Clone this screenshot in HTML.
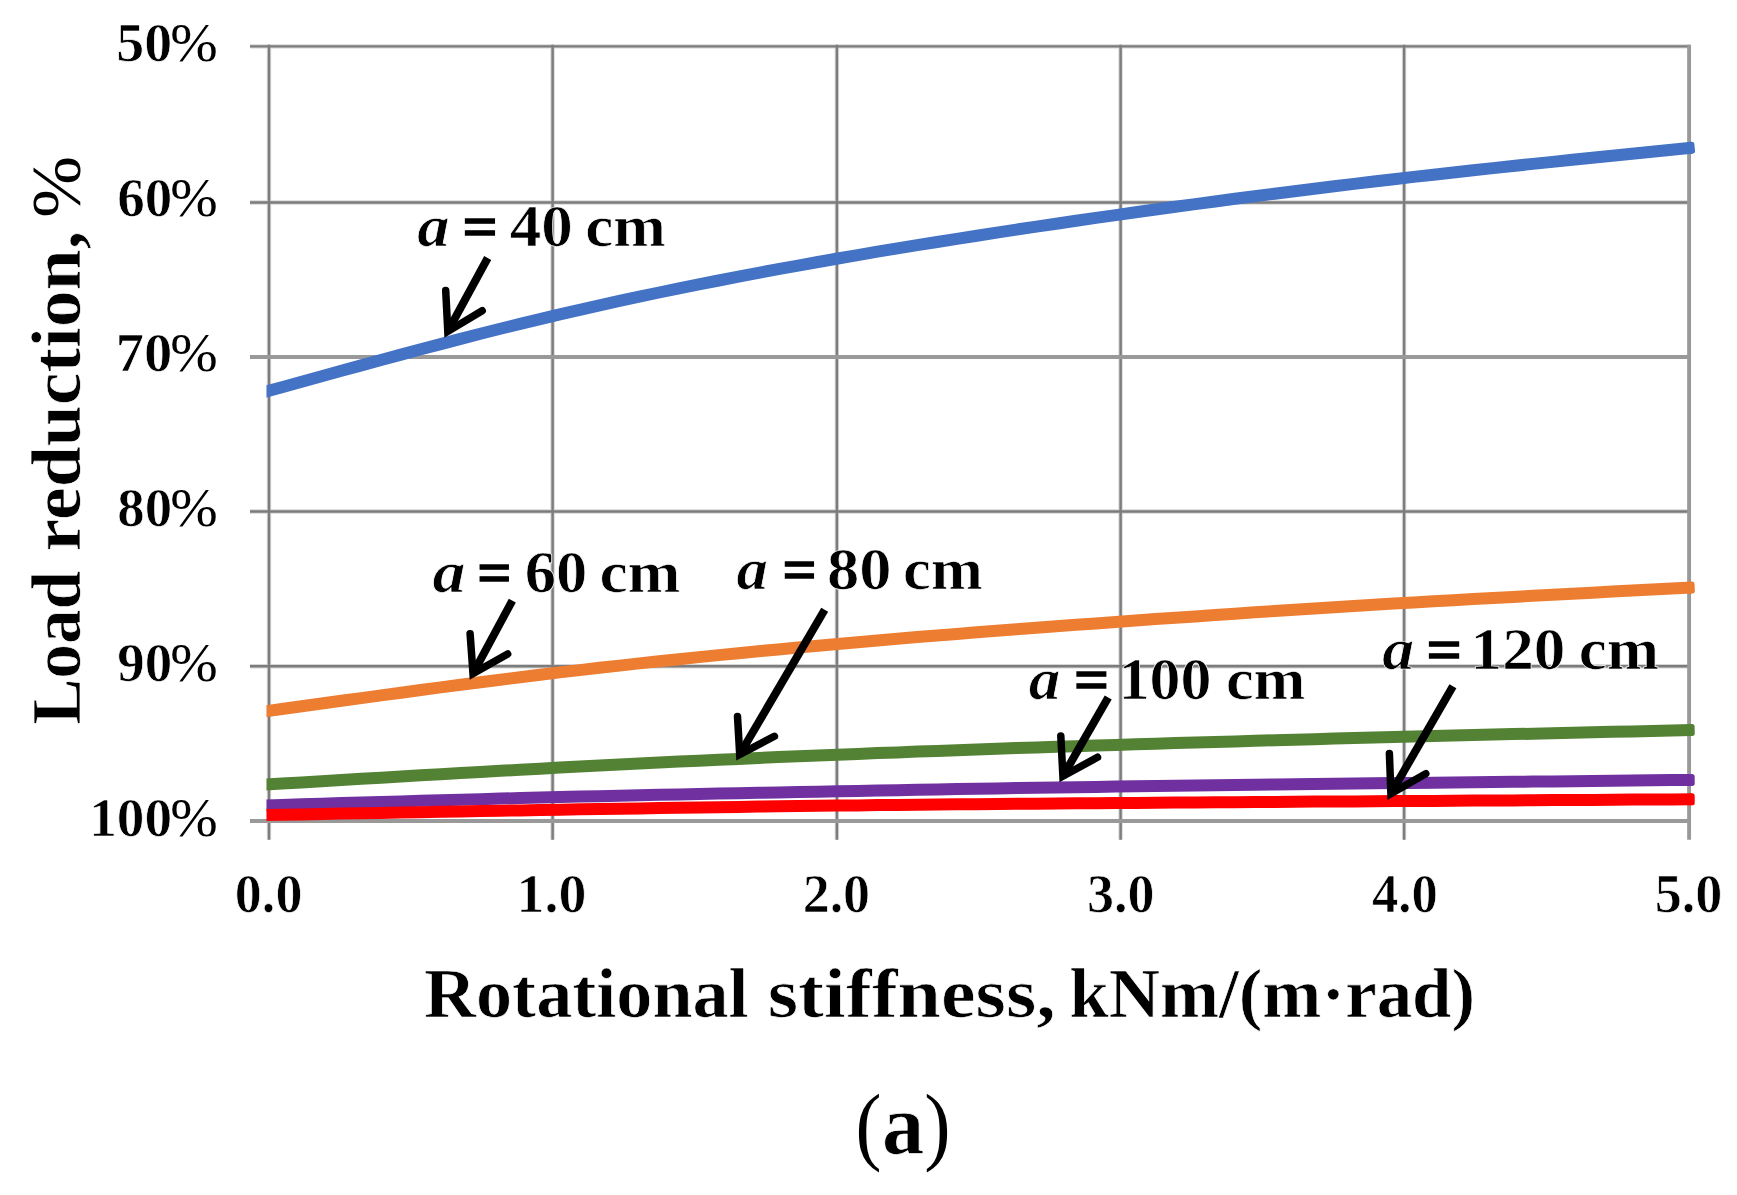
<!DOCTYPE html>
<html lang="en"><head><meta charset="utf-8"><title>Load reduction vs rotational stiffness (a)</title>
<style>
html,body{margin:0;padding:0;background:#fff;}
body{width:1737px;height:1195px;overflow:hidden;}
svg{display:block;}
text{font-family:"Liberation Serif","DejaVu Serif",serif;font-weight:bold;fill:#000;stroke:#fff;stroke-width:0.7px;}
.i{font-style:italic;}
.r{font-weight:normal;stroke:none;}
.eq{stroke:#000;stroke-width:1.4px;}
</style></head><body>
<svg width="1737" height="1195" viewBox="0 0 1737 1195">
<rect width="1737" height="1195" fill="#fff"/>
<g stroke="#d6d6d6" stroke-width="4.4" fill="none"><line x1="250" y1="46.35" x2="1690.6" y2="46.35"/><line x1="250" y1="202.45" x2="1690.6" y2="202.45"/><line x1="250" y1="511.5" x2="1690.6" y2="511.5"/><line x1="250" y1="666.2" x2="1690.6" y2="666.2"/><line x1="269.0" y1="44.85" x2="269.0" y2="839.8"/><line x1="552.6" y1="44.85" x2="552.6" y2="839.8"/><line x1="836.9" y1="44.85" x2="836.9" y2="839.8"/><line x1="1120.6" y1="44.85" x2="1120.6" y2="839.8"/><line x1="1404.1" y1="44.85" x2="1404.1" y2="839.8"/></g><g stroke="#7c7c7c" stroke-width="2.4" fill="none"><line x1="250" y1="46.35" x2="1690.6" y2="46.35"/><line x1="250" y1="202.45" x2="1690.6" y2="202.45"/><line x1="250" y1="511.5" x2="1690.6" y2="511.5"/><line x1="250" y1="666.2" x2="1690.6" y2="666.2"/><line x1="269.0" y1="44.85" x2="269.0" y2="839.8"/><line x1="552.6" y1="44.85" x2="552.6" y2="839.8"/><line x1="836.9" y1="44.85" x2="836.9" y2="839.8"/><line x1="1120.6" y1="44.85" x2="1120.6" y2="839.8"/><line x1="1404.1" y1="44.85" x2="1404.1" y2="839.8"/></g><g stroke="#999999" stroke-width="3.9" fill="none"><line x1="250" y1="357.0" x2="1690.6" y2="357.0"/><line x1="250" y1="821.0" x2="1690.6" y2="821.0"/><line x1="1689.1" y1="44.85" x2="1689.1" y2="839.8"/></g>
<g id="labels">
<text id="lab40" y="246.2" font-size="60" xml:space="preserve"><tspan id="lab40_0" class="i" x="417.39" textLength="32.29" lengthAdjust="spacingAndGlyphs">a</tspan><tspan id="lab40_1" class="eq" x="447.02" textLength="50.74" lengthAdjust="spacingAndGlyphs"> =</tspan><tspan id="lab40_2" x="493.93" textLength="78.78" lengthAdjust="spacingAndGlyphs"> 40</tspan><tspan id="lab40_3" x="569.42" textLength="96.44" lengthAdjust="spacingAndGlyphs"> cm</tspan></text>
<text id="lab60" y="591.8000000000001" font-size="60" xml:space="preserve"><tspan id="lab60_0" class="i" x="432.55" textLength="32.94" lengthAdjust="spacingAndGlyphs">a</tspan><tspan id="lab60_1" class="eq" x="462.26" textLength="49.38" lengthAdjust="spacingAndGlyphs"> =</tspan><tspan id="lab60_2" x="509.21" textLength="78.17" lengthAdjust="spacingAndGlyphs"> 60</tspan><tspan id="lab60_3" x="583.58" textLength="96.91" lengthAdjust="spacingAndGlyphs"> cm</tspan></text>
<text id="lab80" y="589.1" font-size="60" xml:space="preserve"><tspan id="lab80_0" class="i" x="736.40" textLength="31.39" lengthAdjust="spacingAndGlyphs">a</tspan><tspan id="lab80_1" class="eq" x="767.58" textLength="49.20" lengthAdjust="spacingAndGlyphs"> =</tspan><tspan id="lab80_2" x="810.91" textLength="80.56" lengthAdjust="spacingAndGlyphs"> 80</tspan><tspan id="lab80_3" x="887.44" textLength="95.60" lengthAdjust="spacingAndGlyphs"> cm</tspan></text>
<text id="lab100" y="698.6" font-size="60" xml:space="preserve"><tspan id="lab100_0" class="i" x="1028.87" textLength="31.53" lengthAdjust="spacingAndGlyphs">a</tspan><tspan id="lab100_1" class="eq" x="1058.72" textLength="50.45" lengthAdjust="spacingAndGlyphs"> =</tspan><tspan id="lab100_2" x="1103.16" textLength="108.29" lengthAdjust="spacingAndGlyphs"> 100</tspan><tspan id="lab100_3" x="1210.34" textLength="95.03" lengthAdjust="spacingAndGlyphs"> cm</tspan></text>
<text id="lab120" y="668.6" font-size="60" xml:space="preserve"><tspan id="lab120_0" class="i" x="1382.21" textLength="31.84" lengthAdjust="spacingAndGlyphs">a</tspan><tspan id="lab120_1" class="eq" x="1411.02" textLength="50.91" lengthAdjust="spacingAndGlyphs"> =</tspan><tspan id="lab120_2" x="1454.75" textLength="110.57" lengthAdjust="spacingAndGlyphs"> 120</tspan><tspan id="lab120_3" x="1563.16" textLength="95.87" lengthAdjust="spacingAndGlyphs"> cm</tspan></text>
</g>
<clipPath id="plotclip"><rect x="266.5" y="0" width="1440" height="900"/></clipPath>
<g id="series" fill="none" stroke-width="12" stroke-linejoin="round" clip-path="url(#plotclip)">
<path d="M262.0,392.7 L281.9,387.2 L301.7,381.7 L321.6,376.3 L341.4,370.8 L361.3,365.4 L381.1,360.0 L401.0,354.6 L420.8,349.3 L440.7,344.1 L460.6,338.9 L480.4,333.8 L500.3,328.8 L520.1,323.9 L540.0,319.1 L559.8,314.4 L579.7,309.8 L599.5,305.3 L619.4,300.9 L639.3,296.7 L659.1,292.5 L679.0,288.4 L698.8,284.4 L718.7,280.5 L738.5,276.6 L758.4,272.9 L778.2,269.2 L798.1,265.6 L818.0,262.0 L837.8,258.5 L857.7,255.1 L877.5,251.7 L897.4,248.4 L917.2,245.2 L937.1,242.0 L956.9,238.8 L976.8,235.7 L996.7,232.6 L1016.5,229.6 L1036.4,226.6 L1056.2,223.7 L1076.1,220.8 L1095.9,217.9 L1115.8,215.1 L1135.6,212.3 L1155.5,209.5 L1175.4,206.8 L1195.2,204.1 L1215.1,201.5 L1234.9,198.8 L1254.8,196.2 L1274.6,193.7 L1294.5,191.2 L1314.3,188.7 L1334.2,186.3 L1354.1,183.9 L1373.9,181.5 L1393.8,179.2 L1413.6,176.9 L1433.5,174.7 L1453.3,172.5 L1473.2,170.3 L1493.0,168.1 L1512.9,166.0 L1532.8,163.9 L1552.6,161.9 L1572.5,159.8 L1592.3,157.8 L1612.2,155.8 L1632.0,153.7 L1651.9,151.7 L1671.7,149.7 L1691.6,147.7" stroke="#4472c4"/><rect x="-3.2" y="-6.0" width="6.2" height="12" rx="2.6" fill="#4472c4" stroke="none" transform="translate(1691.7,147.7) rotate(-5.74)"/>
<path d="M262.0,711.8 L281.9,709.0 L301.7,706.3 L321.6,703.5 L341.4,700.8 L361.3,698.1 L381.1,695.4 L401.0,692.7 L420.8,690.0 L440.7,687.4 L460.6,684.8 L480.4,682.3 L500.3,679.7 L520.1,677.3 L540.0,674.8 L559.8,672.4 L579.7,670.1 L599.5,667.8 L619.4,665.6 L639.3,663.4 L659.1,661.3 L679.0,659.2 L698.8,657.1 L718.7,655.1 L738.5,653.2 L758.4,651.2 L778.2,649.4 L798.1,647.5 L818.0,645.7 L837.8,643.9 L857.7,642.2 L877.5,640.5 L897.4,638.8 L917.2,637.1 L937.1,635.5 L956.9,633.9 L976.8,632.3 L996.7,630.8 L1016.5,629.3 L1036.4,627.8 L1056.2,626.3 L1076.1,624.8 L1095.9,623.4 L1115.8,621.9 L1135.6,620.5 L1155.5,619.1 L1175.4,617.7 L1195.2,616.4 L1215.1,615.0 L1234.9,613.7 L1254.8,612.3 L1274.6,611.0 L1294.5,609.8 L1314.3,608.5 L1334.2,607.2 L1354.1,606.0 L1373.9,604.8 L1393.8,603.6 L1413.6,602.4 L1433.5,601.3 L1453.3,600.2 L1473.2,599.1 L1493.0,598.0 L1512.9,596.9 L1532.8,595.8 L1552.6,594.8 L1572.5,593.7 L1592.3,592.7 L1612.2,591.6 L1632.0,590.6 L1651.9,589.6 L1671.7,588.6 L1691.6,587.6" stroke="#ed7d31"/><rect x="-3.2" y="-6.0" width="6.2" height="12" rx="2.6" fill="#ed7d31" stroke="none" transform="translate(1691.7,587.6) rotate(-2.93)"/>
<path d="M262.0,784.7 L281.9,783.5 L301.7,782.4 L321.6,781.2 L341.4,780.0 L361.3,778.8 L381.1,777.7 L401.0,776.5 L420.8,775.3 L440.7,774.2 L460.6,773.1 L480.4,772.0 L500.3,770.8 L520.1,769.8 L540.0,768.7 L559.8,767.6 L579.7,766.6 L599.5,765.5 L619.4,764.5 L639.3,763.6 L659.1,762.6 L679.0,761.6 L698.8,760.7 L718.7,759.8 L738.5,758.9 L758.4,758.0 L778.2,757.1 L798.1,756.3 L818.0,755.5 L837.8,754.7 L857.7,753.9 L877.5,753.1 L897.4,752.4 L917.2,751.6 L937.1,750.9 L956.9,750.2 L976.8,749.5 L996.7,748.8 L1016.5,748.1 L1036.4,747.5 L1056.2,746.8 L1076.1,746.2 L1095.9,745.6 L1115.8,744.9 L1135.6,744.3 L1155.5,743.7 L1175.4,743.1 L1195.2,742.5 L1215.1,742.0 L1234.9,741.4 L1254.8,740.8 L1274.6,740.3 L1294.5,739.7 L1314.3,739.2 L1334.2,738.6 L1354.1,738.1 L1373.9,737.6 L1393.8,737.1 L1413.6,736.6 L1433.5,736.1 L1453.3,735.6 L1473.2,735.1 L1493.0,734.6 L1512.9,734.1 L1532.8,733.7 L1552.6,733.2 L1572.5,732.7 L1592.3,732.3 L1612.2,731.8 L1632.0,731.4 L1651.9,730.9 L1671.7,730.5 L1691.6,730.0" stroke="#548235"/><rect x="-3.2" y="-6.0" width="6.2" height="12" rx="2.6" fill="#548235" stroke="none" transform="translate(1691.7,730.0) rotate(-1.29)"/>
<path d="M262.0,805.5 L281.9,804.9 L301.7,804.3 L321.6,803.7 L341.4,803.1 L361.3,802.6 L381.1,802.0 L401.0,801.4 L420.8,800.8 L440.7,800.3 L460.6,799.7 L480.4,799.2 L500.3,798.6 L520.1,798.1 L540.0,797.6 L559.8,797.1 L579.7,796.6 L599.5,796.2 L619.4,795.7 L639.3,795.3 L659.1,794.8 L679.0,794.4 L698.8,794.0 L718.7,793.6 L738.5,793.2 L758.4,792.8 L778.2,792.4 L798.1,792.0 L818.0,791.7 L837.8,791.3 L857.7,790.9 L877.5,790.5 L897.4,790.2 L917.2,789.8 L937.1,789.5 L956.9,789.1 L976.8,788.8 L996.7,788.4 L1016.5,788.1 L1036.4,787.8 L1056.2,787.5 L1076.1,787.2 L1095.9,786.9 L1115.8,786.6 L1135.6,786.3 L1155.5,786.0 L1175.4,785.7 L1195.2,785.5 L1215.1,785.2 L1234.9,785.0 L1254.8,784.7 L1274.6,784.5 L1294.5,784.2 L1314.3,784.0 L1334.2,783.8 L1354.1,783.6 L1373.9,783.3 L1393.8,783.1 L1413.6,782.9 L1433.5,782.7 L1453.3,782.5 L1473.2,782.2 L1493.0,782.0 L1512.9,781.8 L1532.8,781.6 L1552.6,781.4 L1572.5,781.2 L1592.3,780.9 L1612.2,780.7 L1632.0,780.5 L1651.9,780.3 L1671.7,780.1 L1691.6,779.9" stroke="#7030a0"/><rect x="-3.2" y="-6.0" width="6.2" height="12" rx="2.6" fill="#7030a0" stroke="none" transform="translate(1691.7,779.9) rotate(-0.62)"/>
<path d="M262.0,815.1 L281.9,814.8 L301.7,814.4 L321.6,814.0 L341.4,813.6 L361.3,813.3 L381.1,812.9 L401.0,812.5 L420.8,812.2 L440.7,811.8 L460.6,811.4 L480.4,811.1 L500.3,810.7 L520.1,810.4 L540.0,810.0 L559.8,809.7 L579.7,809.3 L599.5,809.0 L619.4,808.7 L639.3,808.4 L659.1,808.1 L679.0,807.7 L698.8,807.4 L718.7,807.2 L738.5,806.9 L758.4,806.6 L778.2,806.3 L798.1,806.1 L818.0,805.8 L837.8,805.6 L857.7,805.4 L877.5,805.1 L897.4,804.9 L917.2,804.7 L937.1,804.5 L956.9,804.3 L976.8,804.2 L996.7,804.0 L1016.5,803.8 L1036.4,803.7 L1056.2,803.5 L1076.1,803.3 L1095.9,803.2 L1115.8,803.0 L1135.6,802.9 L1155.5,802.7 L1175.4,802.6 L1195.2,802.5 L1215.1,802.3 L1234.9,802.2 L1254.8,802.0 L1274.6,801.9 L1294.5,801.8 L1314.3,801.6 L1334.2,801.5 L1354.1,801.4 L1373.9,801.2 L1393.8,801.1 L1413.6,801.0 L1433.5,800.9 L1453.3,800.7 L1473.2,800.6 L1493.0,800.5 L1512.9,800.4 L1532.8,800.2 L1552.6,800.1 L1572.5,800.0 L1592.3,799.9 L1612.2,799.8 L1632.0,799.6 L1651.9,799.5 L1671.7,799.4 L1691.6,799.3" stroke="#ff0000"/><rect x="-3.2" y="-6.0" width="6.2" height="12" rx="2.6" fill="#ff0000" stroke="none" transform="translate(1691.7,799.3) rotate(-0.34)"/>
</g>
<g id="arrows" fill="none" stroke="#000">
<path d="M487.7,258.0 L447.8,331.4" stroke-width="8.0"/><path d="M445.7,290.5 L447.8,331.4 L482.2,310.7" stroke-width="7.5" stroke-linecap="round" stroke-linejoin="miter" stroke-miterlimit="10"/>
<path d="M512.3,600.6 L473.0,673.6" stroke-width="8.0"/><path d="M470.1,633.7 L473.0,673.6 L507.7,654.0" stroke-width="7.5" stroke-linecap="round" stroke-linejoin="miter" stroke-miterlimit="10"/>
<path d="M824.7,609.7 L739.7,754.5" stroke-width="8.0"/><path d="M737.5,716.4 L739.7,754.5 L774.4,736.3" stroke-width="7.5" stroke-linecap="round" stroke-linejoin="miter" stroke-miterlimit="10"/>
<path d="M1108.2,697.6 L1062.9,776.2" stroke-width="8.0"/><path d="M1060.8,735.9 L1062.9,776.2 L1097.5,757.3" stroke-width="7.5" stroke-linecap="round" stroke-linejoin="miter" stroke-miterlimit="10"/>
<path d="M1452.9,686.3 L1390.9,793.6" stroke-width="8.0"/><path d="M1389.4,753.6 L1390.9,793.6 L1425.8,773.7" stroke-width="7.5" stroke-linecap="round" stroke-linejoin="miter" stroke-miterlimit="10"/>
</g>
<g id="axistext">
<text id="yt0" y="61.0" font-size="55.6" xml:space="preserve"><tspan id="yt0_0" x="116.33" textLength="55.88" lengthAdjust="spacingAndGlyphs">50</tspan><tspan id="yt0_1" class="r" x="170.17" textLength="47.44" lengthAdjust="spacingAndGlyphs">%</tspan></text>
<text id="yt1" y="215.94" font-size="55.6" xml:space="preserve"><tspan id="yt1_0" x="117.15" textLength="54.97" lengthAdjust="spacingAndGlyphs">60</tspan><tspan id="yt1_1" class="r" x="170.17" textLength="47.44" lengthAdjust="spacingAndGlyphs">%</tspan></text>
<text id="yt2" y="370.88" font-size="55.6" xml:space="preserve"><tspan id="yt2_0" x="115.68" textLength="56.58" lengthAdjust="spacingAndGlyphs">70</tspan><tspan id="yt2_1" class="r" x="170.17" textLength="47.44" lengthAdjust="spacingAndGlyphs">%</tspan></text>
<text id="yt3" y="525.8199999999999" font-size="55.6" xml:space="preserve"><tspan id="yt3_0" x="117.32" textLength="54.86" lengthAdjust="spacingAndGlyphs">80</tspan><tspan id="yt3_1" class="r" x="170.17" textLength="47.44" lengthAdjust="spacingAndGlyphs">%</tspan></text>
<text id="yt4" y="680.76" font-size="55.6" xml:space="preserve"><tspan id="yt4_0" x="117.17" textLength="54.97" lengthAdjust="spacingAndGlyphs">90</tspan><tspan id="yt4_1" class="r" x="170.17" textLength="47.44" lengthAdjust="spacingAndGlyphs">%</tspan></text>
<text id="yt5" y="835.7" font-size="55.6" xml:space="preserve"><tspan id="yt5_0" x="89.16" textLength="82.93" lengthAdjust="spacingAndGlyphs">100</tspan><tspan id="yt5_1" class="r" x="170.17" textLength="47.44" lengthAdjust="spacingAndGlyphs">%</tspan></text>
<text id="xt0" y="911.5" font-size="54" xml:space="preserve"><tspan id="xt0_0" x="234.83" textLength="67.58" lengthAdjust="spacingAndGlyphs">0.0</tspan></text>
<text id="xt1" y="911.5" font-size="54" xml:space="preserve"><tspan id="xt1_0" x="516.41" textLength="69.97" lengthAdjust="spacingAndGlyphs">1.0</tspan></text>
<text id="xt2" y="911.5" font-size="54" xml:space="preserve"><tspan id="xt2_0" x="802.65" textLength="67.47" lengthAdjust="spacingAndGlyphs">2.0</tspan></text>
<text id="xt3" y="911.5" font-size="54" xml:space="preserve"><tspan id="xt3_0" x="1086.89" textLength="67.53" lengthAdjust="spacingAndGlyphs">3.0</tspan></text>
<text id="xt4" y="911.5" font-size="54" xml:space="preserve"><tspan id="xt4_0" x="1372.06" textLength="65.80" lengthAdjust="spacingAndGlyphs">4.0</tspan></text>
<text id="xt5" y="911.5" font-size="54" xml:space="preserve"><tspan id="xt5_0" x="1654.65" textLength="67.77" lengthAdjust="spacingAndGlyphs">5.0</tspan></text>
<text id="xtitle" y="1017.3" font-size="69.5" xml:space="preserve"><tspan id="xtitle_0" x="423.91" textLength="324.76" lengthAdjust="spacingAndGlyphs">Rotational</tspan><tspan id="xtitle_1" x="748.22" textLength="307.51" lengthAdjust="spacingAndGlyphs"> stiffness,</tspan><tspan id="xtitle_2" x="1051.48" textLength="423.76" lengthAdjust="spacingAndGlyphs"> kNm/(m·rad)</tspan></text>
<text id="ytitle" transform="translate(79.8,723.2) rotate(-90)" y="0" font-size="69.5" xml:space="preserve"><tspan id="ytitle_0" x="-1.67" textLength="153.92" lengthAdjust="spacingAndGlyphs">Load</tspan><tspan id="ytitle_1" x="153.22" textLength="339.09" lengthAdjust="spacingAndGlyphs"> reduction,</tspan><tspan id="ytitle_2" class="r" x="486.85" textLength="80.21" lengthAdjust="spacingAndGlyphs"> %</tspan></text>
<text id="caption" y="1153.8" font-size="86.7" xml:space="preserve"><tspan id="caption_0" class="r" x="855.56" textLength="25.96" lengthAdjust="spacingAndGlyphs">(</tspan><tspan id="caption_1" x="882.11" textLength="42.25" lengthAdjust="spacingAndGlyphs">a</tspan><tspan id="caption_2" class="r" x="924.28" textLength="26.35" lengthAdjust="spacingAndGlyphs">)</tspan></text>
</g>
</svg></body></html>
